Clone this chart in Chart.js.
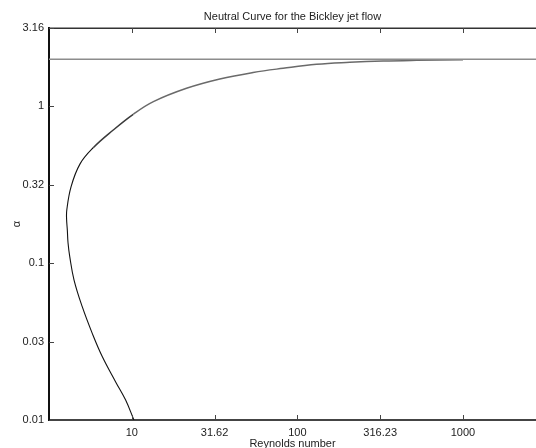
<!DOCTYPE html>
<html><head><meta charset="utf-8">
<script src="https://cdn.jsdelivr.net/npm/chart.js@4/dist/chart.umd.min.js"></script>
<style>html,body{margin:0;padding:0;background:#fff;overflow:hidden}#wrap{width:536px;height:448px}</style>
</head><body><div id="wrap"><canvas id="c" width="536" height="448"></canvas></div>
<script>
const chartTitle = 'Neutral Curve for the Bickley jet flow';
const xTitle = 'Reynolds number';
const yTitle = 'α';
const xTickValues = [10, 31.62, 100, 316.23, 1000];
const xTickLabels = ['10', '31.62', '100', '316.23', '1000'];
const yTickValues = [0.01, 0.031623, 0.1, 0.31623, 1, 3.1623];
const yTickLabels = ['0.01', '0.03', '0.1', '0.32', '1', '3.16'];
const xRange = [3.1623, 2760];
const yRange = [0.01, 3.1623];

// neutral curve, from alpha = 0.01 on the lower branch, round the nose, up the upper branch
const curveRe    = [10.3, 9.18, 7.99, 6.63, 5.77, 5.02, 4.48, 4.22, 4.12, 4.08, 4.04, 4.05, 4.30, 4.87, 5.85, 7.73, 10.2, 13.5, 21.4, 34.0, 54.0, 82.0, 130.5, 207, 329, 524, 1000];
const curveAlpha = [0.01, 0.0134, 0.0175, 0.0254, 0.0357, 0.0528, 0.0781, 0.110, 0.135, 0.163, 0.189, 0.2185, 0.308, 0.430, 0.545, 0.707, 0.890, 1.072, 1.304, 1.495, 1.645, 1.75, 1.855, 1.91, 1.948, 1.968, 1.985];
// inviscid asymptote alpha = 2
const asymptoteRe    = [3.1623, 2760];
const asymptoteAlpha = [2, 2];

const pts = (xs, ys) => xs.map((x, i) => ({x: x, y: ys[i]}));
const FONT = '"Liberation Sans", Arial, Helvetica, sans-serif';
const TXT = '#222';
const LOWER_SEGMENTS = 14;

const deco = {
  id: 'deco',
  afterDraw(chart) {
    const {ctx, chartArea: a, scales: {x, y}} = chart;
    ctx.save();
    ctx.strokeStyle = '#333';
    ctx.lineWidth = 1.5;
    ctx.beginPath();
    ctx.moveTo(a.left, a.top + 0.25);
    ctx.lineTo(a.right, a.top + 0.25);
    ctx.stroke();
    ctx.lineWidth = 1;
    ctx.strokeStyle = '#444';
    ctx.beginPath();
    x.ticks.forEach(t => {
      const px = Math.round(x.getPixelForValue(t.value)) + 0.5;
      ctx.moveTo(px, a.bottom); ctx.lineTo(px, a.bottom - 5);
      ctx.moveTo(px, a.top); ctx.lineTo(px, a.top + 5);
    });
    y.ticks.forEach(t => {
      const py = Math.round(y.getPixelForValue(t.value)) + 0.5;
      ctx.moveTo(a.left, py); ctx.lineTo(a.left + 5, py);
    });
    ctx.stroke();
    ctx.fillStyle = TXT;
    ctx.font = '11px ' + FONT;
    ctx.textAlign = 'center';
    ctx.textBaseline = 'alphabetic';
    ctx.fillText(chartTitle, (a.left + a.right) / 2, 20);
    ctx.restore();
  }
};

new Chart(document.getElementById('c'), {
  type: 'scatter',
  data: {
    datasets: [
      {data: pts(asymptoteRe, asymptoteAlpha), showLine: true, borderColor: '#8c8c8c', borderWidth: 1.6, pointRadius: 0, tension: 0},
      {data: pts(curveRe, curveAlpha), showLine: true, borderColor: '#6a6a6a', borderWidth: 1.4, pointRadius: 0, tension: 0.4,
        segment: {
          borderColor: c => c.p0DataIndex < LOWER_SEGMENTS ? '#111' : (c.p0DataIndex < LOWER_SEGMENTS + 2 ? '#3a3a3a' : '#6a6a6a'),
          borderWidth: c => c.p0DataIndex < LOWER_SEGMENTS ? 1.1 : 1.5
        }}
    ]
  },
  options: {
    responsive: false,
    animation: false,
    devicePixelRatio: 1,
    layout: {padding: {top: 28, right: 0, left: 0, bottom: 0}},
    plugins: {legend: {display: false}, tooltip: {enabled: false}, title: {display: false}},
    scales: {
      x: {
        type: 'logarithmic', min: xRange[0], max: xRange[1],
        afterBuildTicks: s => { s.ticks = xTickValues.map(v => ({value: v})); },
        afterFit: s => { s.height = 28; },
        grid: {display: false, drawTicks: false, tickLength: 0},
        border: {display: true, color: '#444', width: 2},
        ticks: {autoSkip: false, maxRotation: 0, padding: 6, color: TXT, font: {family: FONT, size: 11},
          callback: (v, i) => xTickLabels[i]},
        title: {display: true, text: xTitle, color: TXT, font: {family: FONT, size: 11, lineHeight: 0.8}, padding: {top: 0, bottom: 0}}
      },
      y: {
        type: 'logarithmic', min: yRange[0], max: yRange[1],
        afterBuildTicks: s => { s.ticks = yTickValues.map(v => ({value: v})); },
        afterFit: s => { s.width = 49; },
        grid: {display: false, drawTicks: false, tickLength: 0},
        border: {display: true, color: '#111', width: 2},
        ticks: {autoSkip: false, padding: 5, color: TXT, font: {family: FONT, size: 11},
          callback: (v, i) => yTickLabels[i]},
        title: {display: true, text: yTitle, color: TXT, font: {family: FONT, size: 11}, padding: {top: 10, bottom: 0}}
      }
    }
  },
  plugins: [deco]
});
</script></body></html>
